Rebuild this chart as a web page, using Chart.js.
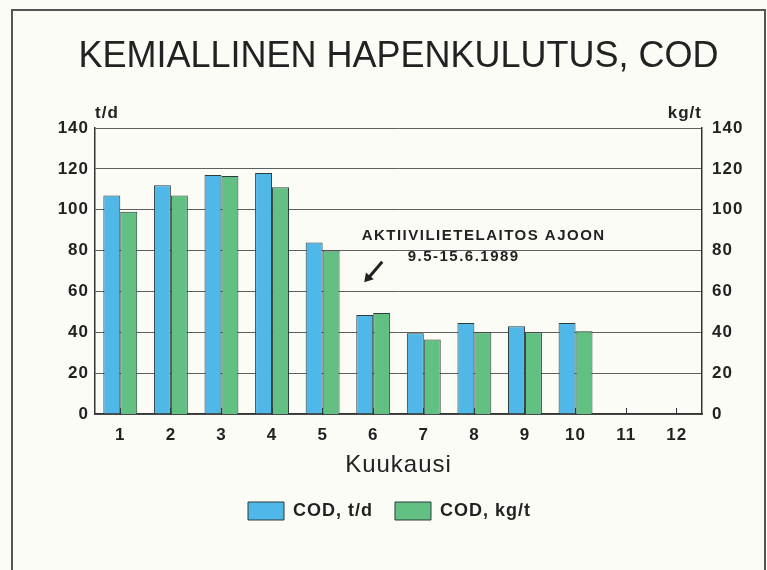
<!DOCTYPE html>
<html>
<head>
<meta charset="utf-8">
<script src="https://cdn.jsdelivr.net/npm/chart.js@4"></script>
<style>
  html, body { margin: 0; padding: 0; background: #fcfcf7; }
  #wrap { width: 767px; height: 570px; position: relative; }
</style>
</head>
<body>
<div id="wrap"><canvas id="codChart" width="767" height="570"></canvas></div>
<script>
const months = ['1', '2', '3', '4', '5', '6', '7', '8', '9', '10', '11', '12'];
const codTd = [107, 112, 117, 118, 84, 48.5, 39.5, 44.5, 43, 44.5, null, null];
const codKgt = [99, 107, 116.5, 111, 80, 49.5, 36.5, 40, 40, 40.5, null, null];
const seriesNames = ['COD, t/d', 'COD, kg/t'];
const axisMax = 140;
const axisStep = 20;

const FONT = "'Liberation Sans', Arial, sans-serif";
const INK = '#222';

// the old typeset labels are a bit wider than Arial, so space the letters a little
const spacing = {
  id: 'spacing',
  beforeLayout(chart) { chart.ctx.letterSpacing = '1px'; },
  beforeDraw(chart) { chart.ctx.letterSpacing = '1px'; },
};

// title, unit labels, frame and the annotation arrow
const decorations = {
  id: 'decorations',
  beforeDraw(chart) {
    const ctx = chart.ctx;
    ctx.save();
    ctx.fillStyle = '#fcfcf7';
    ctx.fillRect(0, 0, chart.width, chart.height);
    ctx.strokeStyle = '#555';
    ctx.lineWidth = 2;
    ctx.beginPath();
    ctx.moveTo(12, chart.height + 2);
    ctx.lineTo(12, 10);
    ctx.lineTo(765, 10);
    ctx.lineTo(765, chart.height + 2);
    ctx.stroke();
    ctx.restore();
  },
  afterDraw(chart) {
    const ctx = chart.ctx;
    const area = chart.chartArea;
    const x = chart.scales.x;
    const y = chart.scales.y;
    ctx.save();
    ctx.fillStyle = INK;
    ctx.textBaseline = 'middle';

    ctx.letterSpacing = '0px';
    ctx.font = '36px ' + FONT;
    ctx.textAlign = 'center';
    ctx.fillText('KEMIALLINEN HAPENKULUTUS, COD', (area.left + area.right) / 2, 57);

    ctx.letterSpacing = '1px';
    ctx.font = 'bold 17px ' + FONT;
    ctx.textAlign = 'left';
    ctx.fillText('t/d', area.left, 113);
    ctx.textAlign = 'right';
    ctx.fillText('kg/t', area.right, 113);

    // annotation
    ctx.font = 'bold 15px ' + FONT;
    ctx.letterSpacing = '1.5px';
    ctx.textAlign = 'left';
    ctx.fillText('AKTIIVILIETELAITOS AJOON', x.getPixelForValue(4) + 39, y.getPixelForValue(87));
    ctx.fillText('9.5-15.6.1989', x.getPixelForValue(4) + 85, y.getPixelForValue(77));

    const x1 = x.getPixelForValue(5) + 9, y1 = y.getPixelForValue(74.5);
    const x2 = x.getPixelForValue(5) - 9, y2 = y.getPixelForValue(64.5);
    ctx.strokeStyle = INK;
    ctx.lineWidth = 3;
    ctx.beginPath();
    ctx.moveTo(x1, y1);
    ctx.lineTo(x2 + 4, y2 - 4);
    ctx.stroke();
    const ang = Math.atan2(y2 - y1, x2 - x1);
    ctx.beginPath();
    ctx.moveTo(x2, y2);
    ctx.lineTo(x2 - 10 * Math.cos(ang - 0.55), y2 - 10 * Math.sin(ang - 0.55));
    ctx.lineTo(x2 - 10 * Math.cos(ang + 0.55), y2 - 10 * Math.sin(ang + 0.55));
    ctx.closePath();
    ctx.fill();
    ctx.restore();
  }
};

const ctx = document.getElementById('codChart').getContext('2d');
new Chart(ctx, {
  type: 'bar',
  data: {
    labels: months,
    datasets: [
      {
        label: seriesNames[0],
        data: codTd,
        yAxisID: 'y',
        backgroundColor: '#4fb8e9',
        borderColor: '#2d3b3b',
        borderWidth: 1,
        borderSkipped: 'bottom',
      },
      {
        label: seriesNames[1],
        data: codKgt,
        yAxisID: 'y1',
        backgroundColor: '#62c083',
        borderColor: '#2d3b3b',
        borderWidth: 1,
        borderSkipped: 'bottom',
      },
    ],
  },
  options: {
    responsive: false,
    animation: false,
    layout: { padding: { top: 128, left: 12, right: 0, bottom: 40 } },
    datasets: { bar: { categoryPercentage: 0.67, barPercentage: 1 } },
    plugins: {
      title: { display: false },
      tooltip: { enabled: false },
      legend: {
        position: 'bottom',
        labels: {
          boxWidth: 36,
          boxHeight: 18,
          padding: 22,
          color: INK,
          font: { family: FONT, size: 18, weight: 'bold' },
        },
      },
    },
    scales: {
      x: {
        afterFit(scale) { scale.height = 66; },
        grid: { display: true, drawOnChartArea: false, drawTicks: true, tickLength: -6, offset: false, color: '#333' },
        border: { display: true, color: '#333', width: 1.5 },
        ticks: { color: INK, padding: 17, autoSkip: false, maxRotation: 0, font: { family: FONT, size: 17, weight: 'bold' } },
        title: { display: true, text: 'Kuukausi', color: INK, padding: 0, font: { family: FONT, size: 24 } },
      },
      y: {
        position: 'left',
        min: 0,
        max: axisMax,
        afterFit(scale) { scale.width = 83; },
        grid: { color: '#5e5e5e', lineWidth: 1, drawTicks: false },
        border: { display: true, color: '#333', width: 1.5 },
        ticks: { stepSize: axisStep, padding: 6, color: INK, font: { family: FONT, size: 17, weight: 'bold' } },
      },
      y1: {
        position: 'right',
        min: 0,
        max: axisMax,
        afterFit(scale) { scale.width = 65; },
        grid: { display: false, drawTicks: false },
        border: { display: true, color: '#333', width: 1.5 },
        ticks: { stepSize: axisStep, padding: 10, color: INK, font: { family: FONT, size: 17, weight: 'bold' } },
      },
    },
  },
  plugins: [spacing, decorations],
});
</script>
</body>
</html>
